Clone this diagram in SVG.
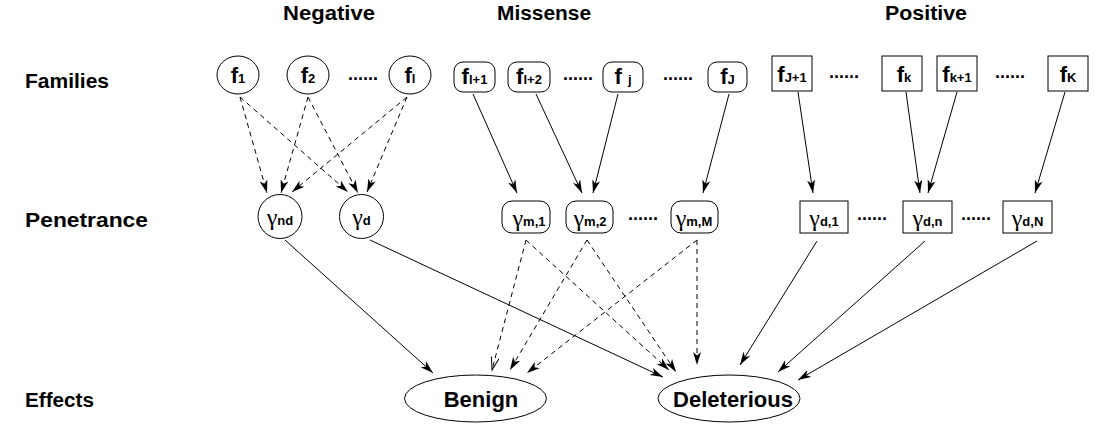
<svg xmlns="http://www.w3.org/2000/svg" width="1095" height="425" viewBox="0 0 1095 425">
<style>
text{font-family:"Liberation Sans",Arial,sans-serif;fill:#000}
.hdr{font-size:20px;font-weight:bold}
.row{font-size:20px;font-weight:bold}
.f{font-size:22px;font-weight:bold}
.sub{font-size:13px;font-weight:bold;font-family:"Liberation Sans",Arial,sans-serif}
.g{font-size:24px;font-weight:normal;font-family:"Liberation Serif","Times New Roman",serif}
.eff{font-size:22px;font-weight:bold}
.dots{font-size:18px;font-weight:bold}
.node{fill:#fff;stroke:#000;stroke-width:1}
.e{fill:none;stroke:#000;stroke-width:1}
.d{stroke-dasharray:5 4}
.ah{marker-end:url(#arr)}
.ao{marker-end:url(#arro)}
</style>
<defs>
<marker id="arr" markerUnits="userSpaceOnUse" markerWidth="15" markerHeight="10" refX="13" refY="4.5" orient="auto">
<path d="M0,0.5 L13,4.5 L0,8.5 L3.5,4.5 Z" fill="#000"/>
</marker>
<marker id="arro" markerUnits="userSpaceOnUse" markerWidth="15" markerHeight="10" refX="13" refY="4.5" orient="auto">
<path d="M0,0.5 L13,4.5 L0,8.5" fill="none" stroke="#000" stroke-width="1"/>
</marker>
</defs>

<g id="headers">
<text class="hdr" x="329" y="20" text-anchor="middle" textLength="92" lengthAdjust="spacingAndGlyphs">Negative</text>
<text class="hdr" x="544" y="20" text-anchor="middle" textLength="94" lengthAdjust="spacingAndGlyphs">Missense</text>
<text class="hdr" x="926" y="20" text-anchor="middle" textLength="82" lengthAdjust="spacingAndGlyphs">Positive</text>
</g>
<g id="rowlabels">
<text class="row" x="25" y="88" textLength="84" lengthAdjust="spacingAndGlyphs">Families</text>
<text class="row" x="25" y="227" textLength="123" lengthAdjust="spacingAndGlyphs">Penetrance</text>
<text class="row" x="25" y="407" textLength="69" lengthAdjust="spacingAndGlyphs">Effects</text>
</g>

<g id="connectors">
<line class="e d ah" x1="240" y1="97" x2="267" y2="193"/>
<line class="e d ah" x1="240" y1="97" x2="348" y2="192"/>
<line class="e d ah" x1="308" y1="97" x2="281" y2="193"/>
<line class="e d ah" x1="308" y1="97" x2="358" y2="193"/>
<line class="e d ah" x1="407" y1="97" x2="292" y2="192"/>
<line class="e d ah" x1="407" y1="97" x2="367" y2="192"/>
<line class="e ah" x1="473" y1="94" x2="517" y2="193"/>
<line class="e ah" x1="536" y1="94" x2="582" y2="193"/>
<line class="e ah" x1="618" y1="94" x2="593" y2="193"/>
<line class="e ah" x1="729" y1="94" x2="703" y2="193"/>
<line class="e ah" x1="798" y1="92" x2="813" y2="193"/>
<line class="e ah" x1="906" y1="92" x2="920" y2="193"/>
<line class="e ah" x1="957" y1="92" x2="928" y2="193"/>
<line class="e ah" x1="1065" y1="92" x2="1035" y2="193"/>
<line class="e ah" x1="285" y1="240" x2="433" y2="373"/>
<line class="e ah" x1="370" y1="240" x2="663" y2="377"/>
<line class="e d ao" x1="526" y1="240" x2="492" y2="370"/>
<line class="e d ah" x1="526" y1="240" x2="669" y2="370"/>
<line class="e d ah" x1="587" y1="240" x2="510" y2="370"/>
<line class="e d ah" x1="587" y1="240" x2="676" y2="372"/>
<line class="e d ah" x1="697" y1="240" x2="527" y2="373"/>
<line class="e d ah" x1="697" y1="240" x2="697" y2="365"/>
<line class="e ah" x1="817" y1="241" x2="740" y2="365"/>
<line class="e ah" x1="925" y1="241" x2="778" y2="372"/>
<line class="e ah" x1="1037" y1="241" x2="798" y2="380"/>
</g>

<g id="f1"><ellipse class="node" cx="238" cy="75" rx="21" ry="19"/><text class="f" x="238" y="83" text-anchor="middle">f<tspan class="sub">1</tspan></text></g>
<g id="f2"><ellipse class="node" cx="308" cy="75" rx="21" ry="19"/><text class="f" x="308" y="83" text-anchor="middle">f<tspan class="sub">2</tspan></text></g>
<text class="dots" x="348" y="80">......</text>
<g id="fl"><ellipse class="node" cx="410" cy="75" rx="21" ry="19"/><text class="f" x="410" y="83" text-anchor="middle">f<tspan class="sub">l</tspan></text></g>

<g id="fl1"><rect class="node" x="454" y="62" width="41" height="30" rx="9"/><text class="f" x="474.5" y="84" text-anchor="middle">f<tspan class="sub">l+1</tspan></text></g>
<g id="fl2"><rect class="node" x="508" y="62" width="42" height="30" rx="9"/><text class="f" x="529" y="84" text-anchor="middle">f<tspan class="sub">l+2</tspan></text></g>
<text class="dots" x="563" y="80">......</text>
<g id="fj"><rect class="node" x="603" y="62" width="40" height="30" rx="9"/><text class="f" x="623" y="84" text-anchor="middle">f <tspan class="sub">j</tspan></text></g>
<text class="dots" x="663" y="80">......</text>
<g id="fJ"><rect class="node" x="708" y="62" width="39" height="30" rx="9"/><text class="f" x="727.5" y="84" text-anchor="middle">f<tspan class="sub">J</tspan></text></g>

<g id="fJ1"><rect class="node" x="772" y="56" width="40" height="35"/><text class="f" x="792" y="82" text-anchor="middle">f<tspan class="sub">J+1</tspan></text></g>
<text class="dots" x="829" y="78">......</text>
<g id="fk"><rect class="node" x="882" y="56" width="40" height="35"/><text class="f" x="904" y="82" text-anchor="middle">f<tspan class="sub">k</tspan></text></g>
<g id="fk1"><rect class="node" x="937" y="56" width="40" height="35"/><text class="f" x="957" y="82" text-anchor="middle">f<tspan class="sub">k+1</tspan></text></g>
<text class="dots" x="995" y="78">......</text>
<g id="fK"><rect class="node" x="1048" y="56" width="40" height="35"/><text class="f" x="1068" y="82" text-anchor="middle">f<tspan class="sub">K</tspan></text></g>

<g id="gnd"><circle class="node" cx="280" cy="216.5" r="22"/><text class="g" x="280" y="225" text-anchor="middle">γ<tspan class="sub">nd</tspan></text></g>
<g id="gd"><circle class="node" cx="361.5" cy="216.5" r="22"/><text class="g" x="361.5" y="225" text-anchor="middle">γ<tspan class="sub">d</tspan></text></g>
<g id="gm1"><rect class="node" x="502" y="201" width="48" height="32" rx="10"/><text class="g" x="529" y="226" text-anchor="middle">γ<tspan class="sub">m,1</tspan></text></g>
<g id="gm2"><rect class="node" x="566" y="201" width="47" height="32" rx="10"/><text class="g" x="590" y="226" text-anchor="middle">γ<tspan class="sub">m,2</tspan></text></g>
<text class="dots" x="628" y="220">......</text>
<g id="gmM"><rect class="node" x="671" y="201" width="47" height="32" rx="10"/><text class="g" x="694" y="226" text-anchor="middle">γ<tspan class="sub">m,M</tspan></text></g>
<g id="gd1"><rect class="node" x="800" y="201" width="48" height="32"/><text class="g" x="824" y="226" text-anchor="middle">γ<tspan class="sub">d,1</tspan></text></g>
<text class="dots" x="857" y="220">......</text>
<g id="gdn"><rect class="node" x="903" y="201" width="49" height="32"/><text class="g" x="927.5" y="226" text-anchor="middle">γ<tspan class="sub">d,n</tspan></text></g>
<text class="dots" x="961" y="220">......</text>
<g id="gdN"><rect class="node" x="1003" y="201" width="49" height="32"/><text class="g" x="1027.5" y="226" text-anchor="middle">γ<tspan class="sub">d,N</tspan></text></g>

<g id="benign"><ellipse class="node" cx="475.5" cy="398.5" rx="71" ry="23.5"/><text class="eff" x="481" y="407" text-anchor="middle">Benign</text></g>
<g id="deleterious"><ellipse class="node" cx="729" cy="398.5" rx="71" ry="23.5"/><text class="eff" x="733" y="407" text-anchor="middle">Deleterious</text></g>
</svg>
